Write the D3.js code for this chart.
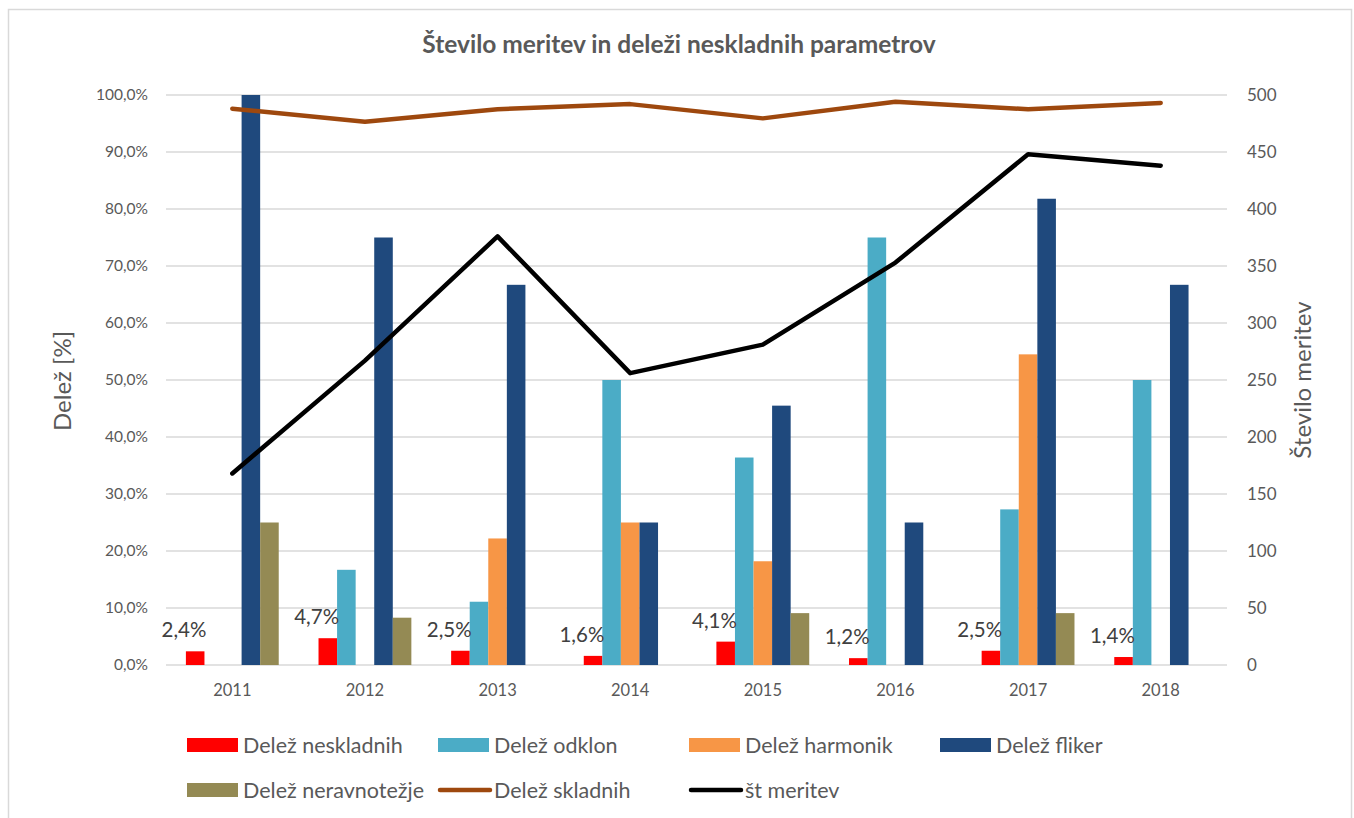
<!DOCTYPE html>
<html>
<head>
<meta charset="utf-8">
<script src="https://cdn.jsdelivr.net/npm/d3@7"></script>
<style>
  body { margin: 0; background: #fff; }
  svg text { font-family: Lato, "Open Sans", sans-serif; }
</style>
</head>
<body>
<svg id="chart" width="1354" height="818"></svg>
<script>
// Categories (years)
const years = ["2011", "2012", "2013", "2014", "2015", "2016", "2017", "2018"];

// Shares in percent (left axis)
const delezNeskladnih = [2.4, 4.7, 2.5, 1.6, 4.1, 1.2, 2.5, 1.4];
const delezOdklon = [0, 16.7, 11.1, 50.0, 36.4, 75.0, 27.3, 50.0];
const delezHarmonik = [0, 0, 22.2, 25.0, 18.2, 0, 54.5, 0];
const delezFliker = [100.0, 75.0, 66.7, 25.0, 45.5, 25.0, 81.8, 66.7];
const delezNeravnotezje = [25.0, 8.3, 0, 0, 9.1, 0, 9.1, 0];
const delezSkladnih = [97.6, 95.3, 97.5, 98.4, 95.9, 98.8, 97.5, 98.6];

// Number of measurements (right axis)
const stMeritev = [168, 267, 376, 256, 281, 353, 448, 438];

// Tick values
const leftTicks = [0, 10, 20, 30, 40, 50, 60, 70, 80, 90, 100];
const rightTicks = [0, 50, 100, 150, 200, 250, 300, 350, 400, 450, 500];

const barSeries = [
  { name: "Delež neskladnih", values: delezNeskladnih, color: "#FF0000" },
  { name: "Delež odklon", values: delezOdklon, color: "#4BACC6" },
  { name: "Delež harmonik", values: delezHarmonik, color: "#F79646" },
  { name: "Delež fliker", values: delezFliker, color: "#1F497D" },
  { name: "Delež neravnotežje", values: delezNeravnotezje, color: "#948A54" }
];
const lineSeries = [
  { name: "Delež skladnih", values: delezSkladnih, color: "#9E480E", axis: "left" },
  { name: "št meritev", values: stMeritev, color: "#000000", axis: "right" }
];

const svg = d3.select("#chart");
const textColor = "#595959";
const gridColor = "#D9D9D9";

// Chart frame
svg.append("rect")
  .attr("x", 8.5).attr("y", 9.5)
  .attr("width", 1343).attr("height", 830)
  .attr("fill", "#fff")
  .attr("stroke", gridColor).attr("stroke-width", 1.5);

const plot = { left: 166, right: 1227, top: 95, bottom: 665 };

const x0 = d3.scaleBand()
  .domain(years)
  .range([plot.left, plot.right])
  .paddingInner(0.3)
  .paddingOuter(0.15);

const x1 = d3.scaleBand()
  .domain(barSeries.map(s => s.name))
  .range([0, x0.bandwidth()]);

const yL = d3.scaleLinear().domain([0, 100]).range([plot.bottom, plot.top]);
const yR = d3.scaleLinear().domain([0, 500]).range([plot.bottom, plot.top]);

// Title
svg.append("text")
  .attr("x", 679).attr("y", 53)
  .attr("text-anchor", "middle")
  .attr("font-size", 24.5).attr("font-weight", 700)
  .attr("fill", textColor)
  .text("Število meritev in deleži neskladnih parametrov");

// Gridlines
svg.append("g")
  .selectAll("line")
  .data(leftTicks)
  .join("line")
  .attr("x1", plot.left).attr("x2", plot.right)
  .attr("y1", d => yL(d)).attr("y2", d => yL(d))
  .attr("stroke", gridColor).attr("stroke-width", 1.5);

// Left axis
const leftAxis = d3.axisLeft(yL)
  .tickValues(leftTicks)
  .tickSize(0)
  .tickPadding(18)
  .tickFormat(d => d.toFixed(1).replace(".", ",") + "%");
const gL = svg.append("g").attr("transform", `translate(${plot.left},0)`).call(leftAxis);
gL.select(".domain").remove();
gL.selectAll("text").attr("font-size", 15.5).attr("fill", textColor);

// Right axis
const rightAxis = d3.axisRight(yR)
  .tickValues(rightTicks)
  .tickSize(0)
  .tickPadding(20);
const gR = svg.append("g").attr("transform", `translate(${plot.right},0)`).call(rightAxis);
gR.select(".domain").remove();
gR.selectAll("text").attr("font-size", 17).attr("fill", textColor);

// Bottom axis
const bottomAxis = d3.axisBottom(x0).tickSize(0).tickPadding(19);
const gB = svg.append("g").attr("transform", `translate(0,${plot.bottom})`).call(bottomAxis);
gB.select(".domain").remove();
gB.selectAll("text").attr("font-size", 16.5).attr("fill", textColor);

// Axis titles
svg.append("text")
  .attr("transform", "translate(71,381) rotate(-90)")
  .attr("text-anchor", "middle")
  .attr("font-size", 24).attr("fill", textColor)
  .text("Delež [%]");
svg.append("text")
  .attr("transform", "translate(1311,380) rotate(-90)")
  .attr("text-anchor", "middle")
  .attr("font-size", 24).attr("fill", textColor)
  .text("Število meritev");

// Grouped bars
const groups = svg.append("g")
  .selectAll("g")
  .data(years)
  .join("g")
  .attr("transform", d => `translate(${x0(d)},0)`);

groups.selectAll("rect")
  .data((yr, i) => barSeries.map(s => ({ name: s.name, color: s.color, v: s.values[i] })))
  .join("rect")
  .attr("x", d => x1(d.name))
  .attr("width", x1.bandwidth())
  .attr("y", d => yL(d.v))
  .attr("height", d => plot.bottom - yL(d.v))
  .attr("fill", d => d.color);

// Lines
lineSeries.forEach(s => {
  const scale = s.axis === "left" ? yL : yR;
  const line = d3.line()
    .x((d, i) => x0(years[i]) + x0.bandwidth() / 2)
    .y(d => scale(d));
  svg.append("path")
    .datum(s.values)
    .attr("d", line)
    .attr("fill", "none")
    .attr("stroke", s.color)
    .attr("stroke-width", 4.5)
    .attr("stroke-linejoin", "round")
    .attr("stroke-linecap", "round");
});

// Data labels for non-compliant share
svg.append("g")
  .selectAll("text")
  .data(delezNeskladnih)
  .join("text")
  .attr("x", (d, i) => x0(years[i]) + x1(barSeries[0].name) + x1.bandwidth() + 2)
  .attr("y", d => yL(d) - 14)
  .attr("text-anchor", "end")
  .attr("font-size", 20.5).attr("fill", "#404040")
  .text(d => d.toFixed(1).replace(".", ",") + "%");

// Legend
const legendItems = [
  ...barSeries.map(s => ({ name: s.name, color: s.color, type: "bar" })),
  ...lineSeries.map(s => ({ name: s.name, color: s.color, type: "line" }))
];
const legend = svg.append("g")
  .selectAll("g")
  .data(legendItems)
  .join("g")
  .attr("transform", (d, i) => `translate(${187 + (i % 4) * 251},${745 + Math.floor(i / 4) * 45})`);

legend.each(function(d) {
  const g = d3.select(this);
  if (d.type === "bar") {
    g.append("rect").attr("x", 0).attr("y", -7).attr("width", 51).attr("height", 14).attr("fill", d.color);
  } else {
    g.append("line").attr("x1", 2).attr("x2", 52).attr("y1", 0).attr("y2", 0)
      .attr("stroke", d.color).attr("stroke-width", 4.5).attr("stroke-linecap", "round");
  }
  g.append("text")
    .attr("x", 56).attr("y", 0).attr("dy", "0.35em")
    .attr("font-size", 21.5).attr("fill", textColor)
    .text(d.name);
});
</script>
</body>
</html>
